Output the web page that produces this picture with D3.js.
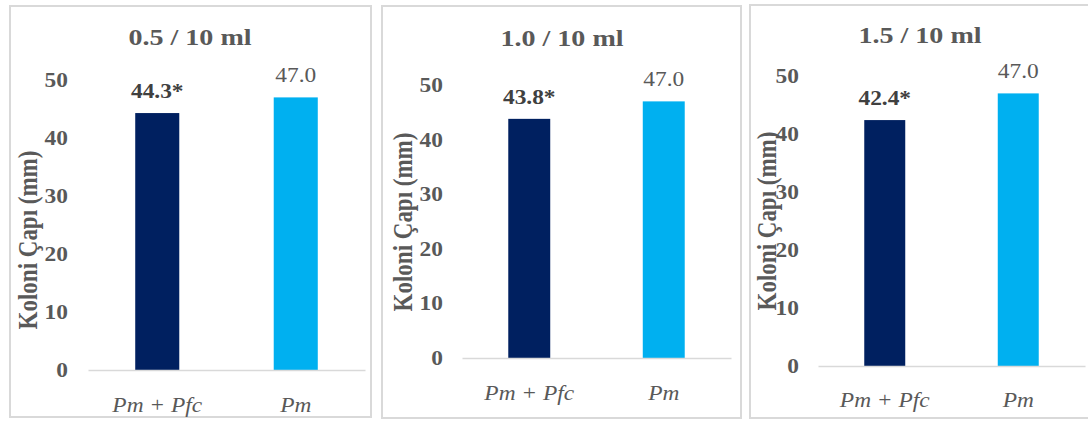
<!DOCTYPE html>
<html>
<head>
<meta charset="utf-8">
<script src="https://cdn.jsdelivr.net/npm/d3@7"></script>
<style>
  html, body { margin: 0; padding: 0; background: #ffffff; }
  svg { display: block; }
  text { font-family: "Liberation Serif", "Times New Roman", serif; }
</style>
</head>
<body>
<svg id="chart" width="1088" height="421"></svg>
<script>
// ---- data ----
const panelTitles = ["0.5 / 10 ml", "1.0 / 10 ml", "1.5 / 10 ml"];
const categories = ["Pm + Pfc", "Pm"];
const treatedValues = [44.3, 43.8, 42.4];   // Pm + Pfc
const controlValues = [47.0, 47.0, 47.0];   // Pm
const significance = ["*", "*", "*"];
const yTicks = [0, 10, 20, 30, 40, 50];
const yAxisTitle = "Koloni Çapı (mm)";

// ---- layout (positions only) ----
const layout = [
  { box: [10, 6, 371, 417], xr: [88, 365], yr: [370, 80], titleX: 190, titleY: 45, tickPad: 20, yTitleX: 28, yTitleY: 240, xLabY: 412, barFrac: 0.318 },
  { box: [382, 6, 741, 418], xr: [462, 731], yr: [358, 85], titleX: 562, titleY: 46, tickPad: 19, yTitleX: 403, yTitleY: 222, xLabY: 400, barFrac: 0.312 },
  { box: [750, 5, 1110, 418], xr: [818, 1085], yr: [366, 76], titleX: 920, titleY: 43, tickPad: 19, yTitleX: 767, yTitleY: 221, xLabY: 407, barFrac: 0.307 }
];

const SX = 1.17; // horizontal stretch of the original picture
const colors = ["#002060", "#00B0F0"];
const grayText = "#595959";

const svg = d3.select("#chart");

panelTitles.forEach((title, i) => {
  const L = layout[i];
  const g = svg.append("g");
  const vals = [treatedValues[i], controlValues[i]];
  const labels = [vals[0].toFixed(1) + significance[i], vals[1].toFixed(1)];

  // panel border
  g.append("rect")
    .attr("x", L.box[0]).attr("y", L.box[1])
    .attr("width", L.box[2] - L.box[0]).attr("height", L.box[3] - L.box[1])
    .attr("fill", "#ffffff").attr("stroke", "#d9d9d9").attr("stroke-width", 2);

  const x = d3.scaleBand().domain(categories).range(L.xr).paddingInner(0).paddingOuter(0);
  const y = d3.scaleLinear().domain([0, 50]).range(L.yr);
  const bw = x.bandwidth() * L.barFrac;

  // title
  g.append("text")
    .attr("transform", `translate(${L.titleX},${L.titleY}) scale(${SX},1)`)
    .attr("text-anchor", "middle")
    .attr("font-size", 24).attr("font-weight", "bold")
    .attr("fill", grayText)
    .text(title);

  // y axis (labels only)
  const yAxis = g.append("g")
    .attr("transform", `translate(${L.xr[0]},0)`)
    .call(d3.axisLeft(y).tickValues(yTicks).tickSize(0).tickPadding(L.tickPad).tickFormat(d3.format("d")));
  yAxis.select(".domain").remove();
  yAxis.selectAll("text")
    .attr("x", 0)
    .attr("transform", `translate(${-L.tickPad},0) scale(${SX},1)`)
    .attr("font-family", "Liberation Serif, Times New Roman, serif")
    .attr("font-size", 20).attr("font-weight", "bold")
    .attr("fill", grayText);

  // y axis title
  g.append("text")
    .attr("transform", `translate(${L.yTitleX},${L.yTitleY}) scale(${SX},1) rotate(-90)`)
    .attr("text-anchor", "middle")
    .attr("dy", "0.35em")
    .attr("font-size", 23).attr("font-weight", "bold")
    .attr("fill", grayText)
    .text(yAxisTitle);

  // bars
  g.selectAll("rect.bar").data(categories).enter().append("rect")
    .attr("class", "bar")
    .attr("x", d => x(d) + (x.bandwidth() - bw) / 2)
    .attr("y", (d, j) => y(vals[j]))
    .attr("width", bw)
    .attr("height", (d, j) => y(0) - y(vals[j]))
    .attr("fill", (d, j) => colors[j]);

  // x axis line
  const xAxis = g.append("g")
    .attr("transform", `translate(0,${y(0)})`)
    .call(d3.axisBottom(x).tickSize(0).tickPadding(0).tickFormat(""));
  xAxis.select(".domain").attr("stroke", "#d9d9d9").attr("stroke-width", 1.3);
  xAxis.selectAll(".tick").remove();

  // x category labels
  g.selectAll("text.xlab").data(categories).enter().append("text")
    .attr("class", "xlab")
    .attr("transform", d => `translate(${x(d) + x.bandwidth() / 2},${L.xLabY}) scale(${SX},1)`)
    .attr("text-anchor", "middle")
    .attr("font-size", 20).attr("font-style", "italic")
    .attr("fill", grayText)
    .text(d => d);

  // value labels
  g.selectAll("text.vlab").data(categories).enter().append("text")
    .attr("class", "vlab")
    .attr("transform", (d, j) => `translate(${x(d) + x.bandwidth() / 2},${y(vals[j]) - 15}) scale(${SX},1)`)
    .attr("text-anchor", "middle")
    .attr("font-size", 20)
    .attr("font-weight", (d, j) => j === 0 ? "bold" : "normal")
    .attr("fill", (d, j) => j === 0 ? "#404040" : grayText)
    .text((d, j) => labels[j]);
});
</script>
</body>
</html>
